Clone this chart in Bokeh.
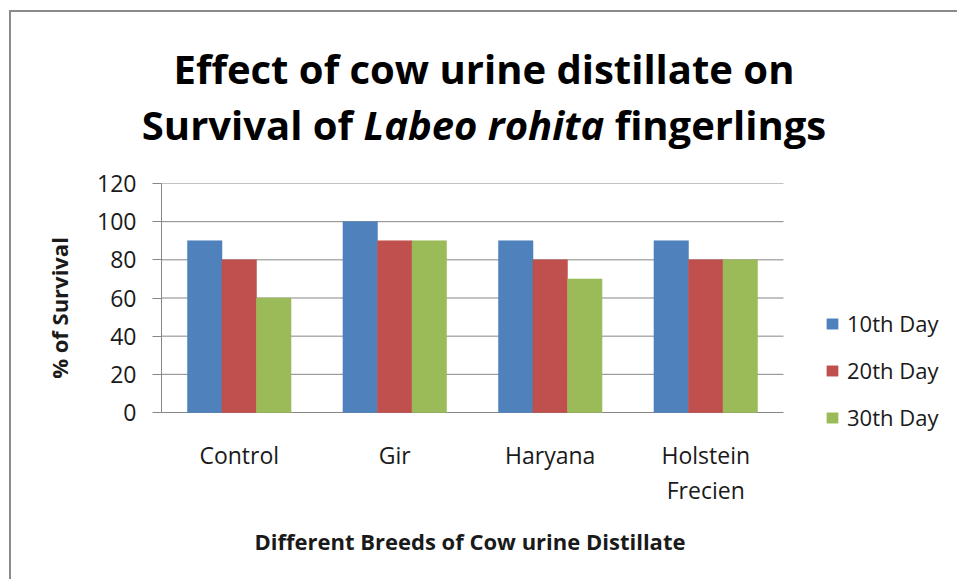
from bokeh.plotting import figure
from bokeh.layouts import column
from bokeh.models import Range1d, FixedTicker, Legend, LegendItem, Div
from bokeh.embed import file_html
from bokeh.resources import INLINE

# ---- data ----
categories = ["Control", "Gir", "Haryana", "Holstein\nFrecien"]
day10 = [90, 100, 90, 90]
day20 = [80, 90, 80, 80]
day30 = [60, 90, 70, 80]
series_names = ["10th Day", "20th Day", "30th Day"]
y_ticks = [0, 20, 40, 60, 80, 100, 120]
title_line1 = "Effect of cow urine distillate on"
title_line2 = ["Survival of", "Labeo rohita", "fingerlings"]
x_label = "Different Breeds of Cow urine Distillate"
y_label = "% of Survival"

colors = ["#4F81BD", "#C0504D", "#9BBB59"]
FONT = "Open Sans"
GRID = "#868686"
TXT = "#1a1a1a"

W = 946
TH = 150          # title strip height
PH = 350          # chart height
LH = 67           # x-axis title strip height

# ---------- title strip ----------
title_html = (
    f'<div style="width:{W - 38}px;padding-left:38px;padding-top:29px;'
    f"font-family:'{FONT}';font-weight:bold;font-size:40px;line-height:56px;"
    f'color:black;text-align:center;white-space:nowrap;">'
    f'{title_line1}<br>{title_line2[0]} <i>{title_line2[1]}</i> {title_line2[2]}</div>'
)
t = Div(text=title_html, width=W, height=TH, margin=(0, 0, 0, 0))

# ---------- chart ----------
n = len(categories)
pos = list(range(1, n + 1))                 # category centres on the x scale
x_end = 0.5 + n * 796 / 622                 # frame continues to the right for the legend
y_start = -120 * 20 / 229                   # a little room below 0 for the legend

p = figure(x_range=Range1d(0.5, x_end), y_range=Range1d(y_start, 120),
           width=W, height=PH, output_backend="svg", toolbar_location=None,
           min_border_left=150, min_border_right=0, min_border_top=21,
           min_border_bottom=80, margin=(0, 0, 0, 0))
p.background_fill_color = "white"
p.border_fill_color = "white"
p.outline_line_color = None
p.xgrid.grid_line_color = None
p.ygrid.grid_line_color = None

# horizontal gridlines across the category area only
p.segment(x0=[0.5] * len(y_ticks), x1=[n + 0.5] * len(y_ticks), y0=y_ticks, y1=y_ticks,
          line_color=GRID, line_width=1)

bw = 0.222
renderers = []
for vals, off, c in zip([day10, day20, day30], [-bw, 0, bw], colors):
    r = p.vbar(x=[x + off for x in pos], top=vals, bottom=0, width=bw,
               fill_color=c, line_color=c, line_width=0.5)
    renderers.append(r)

p.yaxis.ticker = FixedTicker(ticks=y_ticks)
p.yaxis.bounds = (0, 120)
p.yaxis.axis_line_color = GRID
p.yaxis.major_tick_line_color = GRID
p.yaxis.major_tick_out = 9
p.yaxis.major_tick_in = 0
p.yaxis.minor_tick_line_color = None
p.yaxis.major_label_text_font = FONT
p.yaxis.major_label_text_font_size = "23px"
p.yaxis.major_label_text_color = TXT
p.yaxis.major_label_standoff = 16
p.yaxis.axis_label = y_label
p.yaxis.axis_label_text_font = FONT
p.yaxis.axis_label_text_font_size = "22px"
p.yaxis.axis_label_text_font_style = "bold"
p.yaxis.axis_label_text_color = TXT
p.yaxis.axis_label_standoff = 20

p.xaxis.ticker = FixedTicker(ticks=pos)
p.xaxis.major_label_overrides = {x: c for x, c in zip(pos, categories)}
p.xaxis.axis_line_color = None
p.xaxis.major_tick_line_color = None
p.xaxis.minor_tick_line_color = None
p.xaxis.major_label_text_font = FONT
p.xaxis.major_label_text_font_size = "23px"
p.xaxis.major_label_text_color = TXT
p.xaxis.major_label_text_line_height = 1.1
p.xaxis.major_label_standoff = 0

legend = Legend(items=[LegendItem(label=s, renderers=[r]) for s, r in zip(series_names, renderers)],
                location=(664, 0), orientation="vertical")
legend.border_line_color = None
legend.background_fill_alpha = 0
legend.padding = 0
legend.margin = 0
legend.glyph_width = 14
legend.glyph_height = 13
legend.label_standoff = 8
legend.label_height = 28
legend.spacing = 17
legend.label_text_font = FONT
legend.label_text_font_size = "22px"
legend.label_text_color = TXT
p.add_layout(legend, "center")

# ---------- x-axis title strip (centred under the category area) ----------
xl_html = (
    f'<div style="width:918px;padding-top:14px;text-align:center;'
    f"font-family:'{FONT}';font-weight:bold;font-size:22px;line-height:30px;"
    f'color:{TXT};white-space:nowrap;">{x_label}</div>'
)
xl = Div(text=xl_html, width=W, height=LH, margin=(0, 0, 0, 0))

layout = column(t, p, xl, spacing=0, margin=(10, 0, 0, 9),
                styles={"border-top": "2px solid #8a8a8a", "border-left": "2px solid #8a8a8a"})

open("out.html", "w").write(file_html(layout, INLINE))
